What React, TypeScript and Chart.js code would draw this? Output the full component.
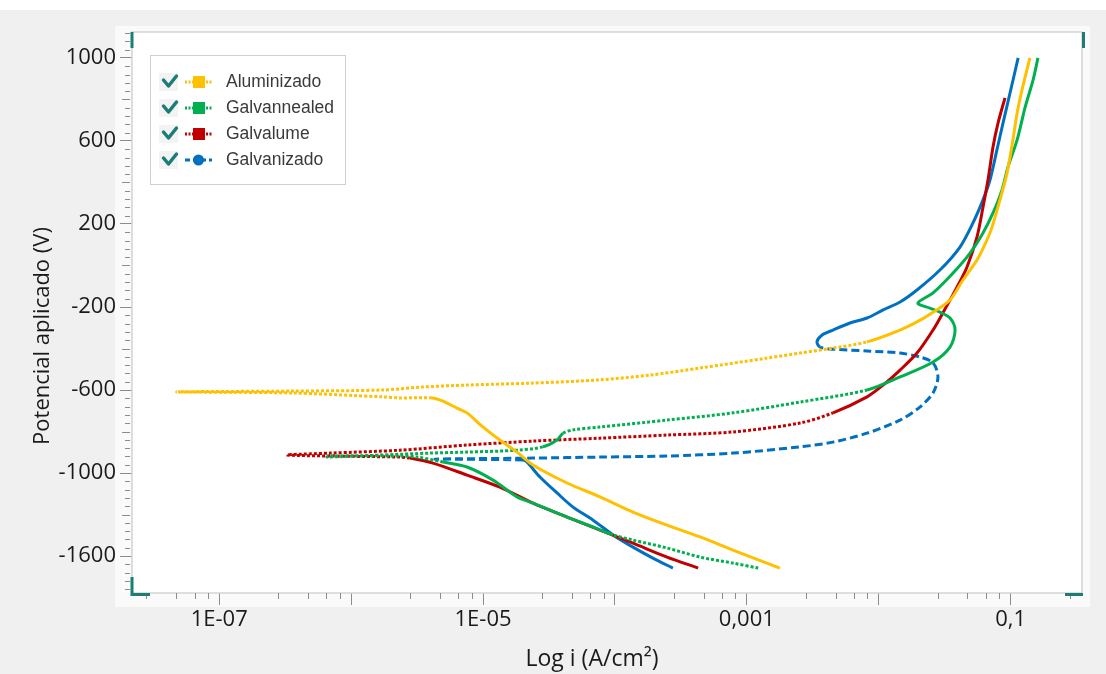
import React, { useEffect, useRef } from "react";
import { Chart, registerables } from "chart.js";

Chart.register(...registerables);

// ---------------- data ----------------
const seriesLabels = ["Aluminizado", "Galvannealed", "Galvalume", "Galvanizado"];

// current density (A/cm2) and potential for each curve, in scan order
const aluI = [1.78e-3, 7.85e-4, 4.42e-4, 2.48e-4, 1.37e-4, 7.71e-5, 4.34e-5, 2.39e-5, 1.81e-5, 1.34e-5, 9.97e-6, 7.55e-6, 6.34e-6, 4.97e-6, 4.1e-6, 2.34e-6, 1.74e-6, 3.44e-7, 4.75e-8, 3.44e-7, 1.74e-6, 3.33e-6, 7.55e-6, 2.27e-5, 7.71e-5, 1.84e-4, 4.42e-4, 1.42e-3, 2.53e-3, 4.5e-3, 8.15e-3, 1.45e-2, 1.95e-2, 2.58e-2, 3.47e-2, 4.35e-2, 5.56e-2, 6.61e-2, 7.23e-2, 8.3e-2, 9.38e-2, 0.104, 0.112, 0.122, 0.14];
const aluE = [-1458, -1371, -1308, -1251, -1188, -1115, -1048, -961, -899, -841, -778, -710, -687, -653, -638, -638, -633, -614, -609, -605, -600, -586, -576, -567, -551, -528, -494, -446, -422, -398, -368, -311, -272, -225, -166, -70, 26, 123, 185, 316, 445, 605, 735, 846, 1000];

const gnI = [1.22e-3, 7.85e-4, 4.42e-4, 2.48e-4, 1.37e-4, 9.66e-5, 6.83e-5, 4.34e-5, 2.39e-5, 1.81e-5, 1.19e-5, 7.55e-6, 4.97e-6, 3.15e-6, 2.34e-6, 6.9e-7, 6.56e-7, 3.96e-6, 7.55e-6, 1.81e-5, 2.84e-5, 3.64e-5, 4.04e-5, 4.81e-5, 7.71e-5, 2.48e-4, 7.85e-4, 2.53e-3, 8.15e-3, 1.45e-2, 2.58e-2, 3.47e-2, 3.79e-2, 3.47e-2, 2.91e-2, 2.44e-2, 1.98e-2, 2.58e-2, 3.66e-2, 4.92e-2, 6.17e-2, 7.35e-2, 8.59e-2, 9.55e-2, 0.112, 0.129, 0.148, 0.161];
const gnE = [-1458, -1434, -1405, -1361, -1323, -1298, -1260, -1212, -1145, -1115, -1034, -971, -947, -923, -918, -918, -923, -904, -899, -890, -874, -841, -808, -792, -778, -745, -710, -658, -600, -537, -465, -393, -311, -253, -225, -205, -181, -132, -36, 60, 157, 253, 363, 475, 605, 764, 894, 1000];

const glI = [4.27e-4, 2.48e-4, 1.37e-4, 7.71e-5, 4.34e-5, 2.39e-5, 1.34e-5, 7.55e-6, 4.17e-6, 2.79e-6, 2.34e-6, 6.9e-7, 3.26e-7, 6.9e-7, 2.34e-6, 7.55e-6, 2.39e-5, 7.71e-5, 2.48e-4, 7.85e-4, 2.53e-3, 4.5e-3, 8.15e-3, 1.08e-2, 1.45e-2, 1.95e-2, 2.58e-2, 3.06e-2, 3.92e-2, 4.67e-2, 5.56e-2, 6.17e-2, 6.73e-2, 7.35e-2, 8.02e-2, 9.06e-2];
const glE = [-1458, -1405, -1338, -1275, -1212, -1145, -1068, -1010, -952, -928, -923, -918, -913, -904, -890, -865, -846, -832, -817, -802, -759, -710, -633, -576, -504, -422, -311, -229, -104, -7, 138, 281, 412, 571, 686, 808];

const gzI = [2.75e-4, 1.94e-4, 1.37e-4, 9.66e-5, 6.83e-5, 4.81e-5, 3.64e-5, 2.7e-5, 2.15e-5, 2.01e-5, 4.33e-6, 2.39e-5, 7.71e-5, 2.48e-4, 7.85e-4, 2.53e-3, 4.5e-3, 8.15e-3, 1.45e-2, 2.05e-2, 2.58e-2, 2.81e-2, 2.58e-2, 2.05e-2, 1.45e-2, 8.15e-3, 4.5e-3, 3.59e-3, 3.4e-3, 3.72e-3, 4.5e-3, 6.05e-3, 8.15e-3, 1.08e-2, 1.45e-2, 1.95e-2, 2.91e-2, 4.13e-2, 5.18e-2, 6.17e-2, 6.97e-2, 7.87e-2, 8.75e-2, 9.89e-2, 0.114];
const gzE = [-1458, -1410, -1357, -1298, -1227, -1164, -1096, -1019, -947, -937, -933, -928, -923, -918, -904, -874, -851, -808, -745, -682, -614, -537, -469, -441, -422, -412, -403, -393, -368, -335, -311, -277, -253, -214, -176, -118, -22, 89, 205, 316, 412, 557, 686, 831, 1000];

const xTickValues = [1e-7, 1e-6, 1e-5, 1e-4, 1e-3, 1e-2, 1e-1];
const xTickLabels = ["1E-07", "", "1E-05", "", "0,001", "", "0,1"];
const yTickValues = [1000, 600, 200, -200, -600, -1000, -1400];
const yTickLabels = ["1000", "600", "200", "-200", "-600", "-1000", "-1600"];
const xTitle = "Log i (A/cm²)";
const yTitle = "Potencial aplicado (V)";

// ---------------- styles ----------------
const W = 1106;
const H = 674;
const AREA = { left: 132, top: 32, right: 1082, bottom: 593 };
const X_MIN = 2.18e-8;
const X_MAX = 0.3475;
const Y_MIN = -1578;
const Y_MAX = 1125;
const DOT = [3, 2];
const DASH = [8, 4];
const seriesStyles = [
  { color: "#FFC000", pattern: DOT, ranges: [[14, 30]], marker: "square" },
  { color: "#00B050", pattern: DOT, ranges: [[0, 5], [12, 20], [22, 28]], marker: "square" },
  { color: "#C00000", pattern: DOT, ranges: [[9, 21]], marker: "square" },
  { color: "#0070C0", pattern: DASH, ranges: [[9, 27]], marker: "circle" },
];
const seriesData = [
  [aluI, aluE],
  [gnI, gnE],
  [glI, glE],
  [gzI, gzE],
];
const FONT = '"Open Sans", "DejaVu Sans", sans-serif';
const TEAL = "#1B7D74";
const TICK_COLOR = "#8c8c8c";
const xMinorMantissas = [2.8, 4.7, 6.5, 8.2];

function inRanges(i: number, ranges: number[][]) {
  for (const r of ranges) if (i >= r[0] && i < r[1]) return true;
  return false;
}

const decorPlugin = {
  id: "decor",
  beforeDraw(chart: any) {
    const ctx = chart.ctx;
    const a = chart.chartArea;
    ctx.save();
    ctx.fillStyle = "#ffffff";
    ctx.fillRect(0, 0, W, H);
    ctx.fillStyle = "#f0f0f0";
    ctx.fillRect(0, 10, W, H - 10);
    ctx.fillStyle = "#fafafa";
    ctx.fillRect(115, 26, 1090 - 115, 607 - 26);
    ctx.fillStyle = "#ffffff";
    ctx.fillRect(a.left, a.top, a.right - a.left, a.bottom - a.top);
    ctx.restore();
  },
  afterDraw(chart: any) {
    const ctx = chart.ctx;
    const a = chart.chartArea;
    const xs = chart.scales.x;
    const ys = chart.scales.y;
    ctx.save();
    // plot border
    ctx.strokeStyle = "#d4d4d4";
    ctx.lineWidth = 1.5;
    ctx.strokeRect(a.left, a.top, a.right - a.left, a.bottom - a.top);

    // minor ticks
    ctx.strokeStyle = TICK_COLOR;
    ctx.lineWidth = 1;
    ctx.beginPath();
    for (let k = -9; k <= 0; k++) {
      for (const m of xMinorMantissas) {
        const v = m * Math.pow(10, k);
        if (v <= X_MIN || v >= X_MAX) continue;
        const px = Math.round(xs.getPixelForValue(v)) + 0.5;
        ctx.moveTo(px, a.bottom);
        ctx.lineTo(px, a.bottom + 6);
      }
    }
    for (let v = -1560; v <= 1120; v += 40) {
      if (((v - 200) % 400 + 400) % 400 === 0) continue;
      const len = ((v % 400) + 400) % 400 === 0 ? 8 : 5;
      const py = Math.round(ys.getPixelForValue(v)) + 0.5;
      ctx.moveTo(a.left - 2 - len, py);
      ctx.lineTo(a.left - 2, py);
    }
    ctx.stroke();

    // teal corner marks
    ctx.strokeStyle = TEAL;
    ctx.lineWidth = 3;
    ctx.beginPath();
    ctx.moveTo(a.left, a.top);
    ctx.lineTo(a.left, a.top + 16);
    ctx.moveTo(a.left, a.bottom - 16);
    ctx.lineTo(a.left, a.bottom + 1.5);
    ctx.lineTo(a.left + 18, a.bottom + 1.5);
    ctx.moveTo(a.right - 17, a.bottom + 1.5);
    ctx.lineTo(a.right + 1, a.bottom + 1.5);
    ctx.moveTo(a.right + 1.5, a.top);
    ctx.lineTo(a.right + 1.5, a.top + 16);
    ctx.stroke();

    // axis titles
    ctx.fillStyle = "#1a1a1a";
    ctx.textAlign = "center";
    ctx.textBaseline = "middle";
    ctx.font = "23px " + FONT;
    ctx.fillText(xTitle, 592, 659);
    ctx.font = "22px " + FONT;
    ctx.save();
    ctx.translate(43, 336);
    ctx.rotate(-Math.PI / 2);
    ctx.fillText(yTitle, 0, 0);
    ctx.restore();

    // legend
    const lx = 150, ly = 55, lw = 195, lh = 129;
    ctx.fillStyle = "#ffffff";
    ctx.fillRect(lx, ly, lw, lh);
    ctx.strokeStyle = "#d0d0d0";
    ctx.lineWidth = 1;
    ctx.strokeRect(lx + 0.5, ly + 0.5, lw, lh);
    seriesLabels.forEach((label, i) => {
      const st = seriesStyles[i];
      const cy = 82 + i * 26;
      // checkbox background
      ctx.fillStyle = "#f3f3f3";
      ctx.fillRect(159, cy - 9, 19, 18);
      // check mark
      ctx.strokeStyle = TEAL;
      ctx.lineWidth = 3.5;
      ctx.lineCap = "round";
      ctx.lineJoin = "round";
      ctx.beginPath();
      ctx.moveTo(163.5, cy - 2);
      ctx.lineTo(168.5, cy + 4);
      ctx.lineTo(176.5, cy - 6);
      ctx.stroke();
      // line sample
      ctx.lineCap = "butt";
      ctx.strokeStyle = st.color;
      ctx.lineWidth = 3;
      ctx.setLineDash(st.marker === "circle" ? [5, 3] : [2, 1.5]);
      ctx.beginPath();
      ctx.moveTo(185, cy);
      ctx.lineTo(212, cy);
      ctx.stroke();
      ctx.setLineDash([]);
      ctx.fillStyle = st.color;
      if (st.marker === "circle") {
        ctx.beginPath();
        ctx.arc(198.5, cy, 5.5, 0, Math.PI * 2);
        ctx.fill();
      } else {
        ctx.fillRect(193, cy - 6, 12, 12);
      }
      ctx.fillStyle = "#3a3a3a";
      ctx.font = '17.5px "Liberation Sans", Arial, sans-serif';
      ctx.textAlign = "left";
      ctx.textBaseline = "middle";
      ctx.fillText(label, 226, cy);
    });
    ctx.restore();
  },
};

export default function App() {
  const ref = useRef<HTMLCanvasElement | null>(null);

  useEffect(() => {
    const canvas = ref.current;
    if (!canvas) return;
    const datasets = seriesData.map(([I, E], s) => {
      const st = seriesStyles[s];
      return {
        label: seriesLabels[s],
        data: I.map((x, k) => ({ x, y: E[k] })),
        showLine: true,
        borderColor: st.color,
        backgroundColor: st.color,
        borderWidth: 3,
        borderCapStyle: "butt",
        borderJoinStyle: "round",
        pointRadius: 0,
        pointHoverRadius: 0,
        tension: 0.3,
        segment: {
          borderDash: (c: any) => (inRanges(c.p0DataIndex, st.ranges) ? st.pattern : undefined),
        },
      };
    });

    const chart = new Chart(canvas, {
      type: "scatter",
      data: { datasets: datasets as any },
      options: {
        responsive: false,
        animation: false,
        devicePixelRatio: 1,
        events: [],
        layout: { padding: { left: 0, top: AREA.top, right: W - AREA.right, bottom: 0 } },
        plugins: {
          legend: { display: false },
          tooltip: { enabled: false },
        },
        scales: {
          x: {
            type: "logarithmic",
            position: "bottom",
            min: X_MIN,
            max: X_MAX,
            afterBuildTicks: (axis: any) => {
              axis.ticks = xTickValues.map((v) => ({ value: v }));
            },
            afterFit: (axis: any) => {
              axis.height = H - AREA.bottom;
            },
            grid: {
              display: true,
              drawOnChartArea: false,
              drawTicks: true,
              tickLength: 12,
              color: TICK_COLOR,
              lineWidth: 1,
            },
            border: { display: false },
            ticks: {
              autoSkip: false,
              maxRotation: 0,
              padding: 2,
              color: "#1a1a1a",
              font: { family: FONT, size: 22 },
              callback: (_v: any, i: number) => xTickLabels[i],
            },
          },
          y: {
            type: "linear",
            position: "left",
            min: Y_MIN,
            max: Y_MAX,
            afterBuildTicks: (axis: any) => {
              axis.ticks = yTickValues.map((v) => ({ value: v }));
            },
            afterFit: (axis: any) => {
              axis.width = AREA.left;
            },
            grid: {
              display: true,
              drawOnChartArea: false,
              drawTicks: true,
              tickLength: 12,
              color: TICK_COLOR,
              lineWidth: 1,
            },
            border: { display: false },
            ticks: {
              autoSkip: false,
              padding: 4,
              color: "#1a1a1a",
              font: { family: FONT, size: 22 },
              callback: (_v: any, i: number) => yTickLabels[i],
            },
          },
        },
      },
      plugins: [decorPlugin],
    } as any);

    return () => chart.destroy();
  }, []);

  return (
    <div style={{ position: "fixed", left: 0, top: 0, width: W, height: H, overflow: "hidden" }}>
      <canvas ref={ref} width={W} height={H} style={{ display: "block", width: W, height: H }} />
    </div>
  );
}
